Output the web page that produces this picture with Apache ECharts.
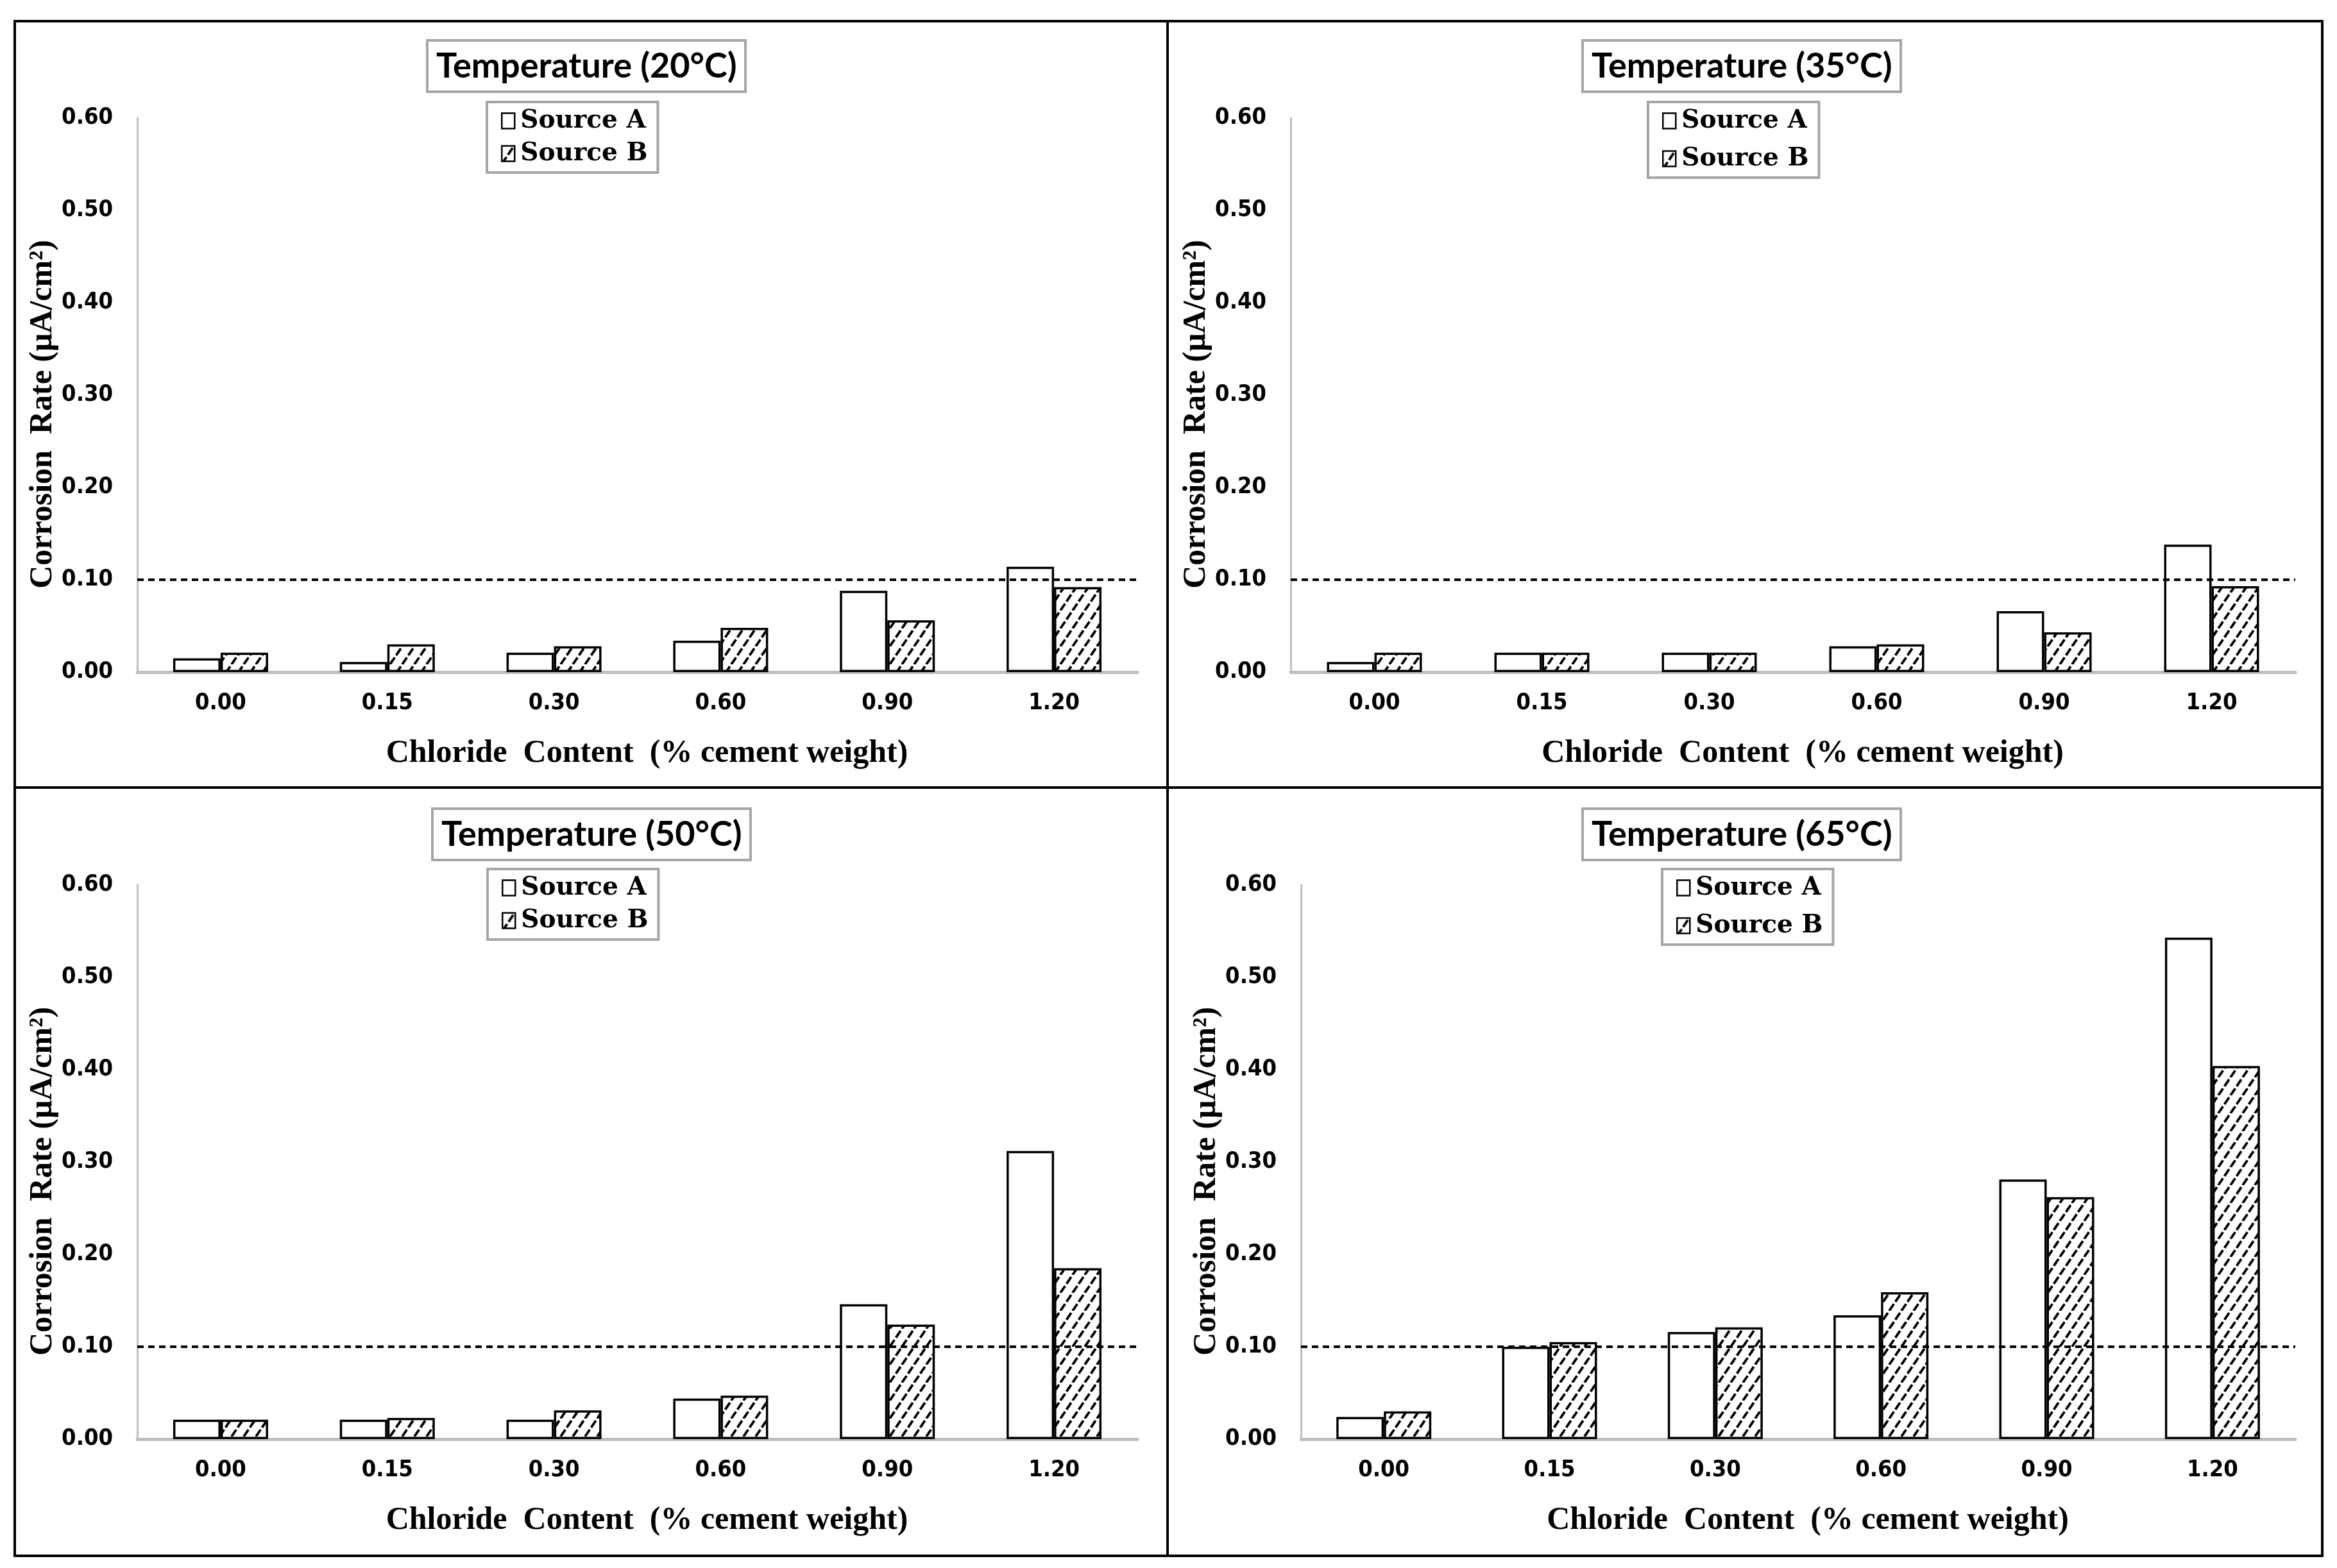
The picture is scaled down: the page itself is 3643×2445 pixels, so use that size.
<!DOCTYPE html>
<html>
<head>
<meta charset="utf-8">
<script src="https://cdn.jsdelivr.net/npm/echarts@6/dist/echarts.min.js"></script>
<style>
html,body{margin:0;padding:0;background:#fff;}
#chart{width:3643px;height:2445px;}
</style>
</head>
<body>
<div id="chart"></div>
<script>
// ---------- DATA ----------
const categories = ['0.00', '0.15', '0.30', '0.60', '0.90', '1.20'];
const panelTitles = ['Temperature (20°C)', 'Temperature (35°C)', 'Temperature (50°C)', 'Temperature (65°C)'];
const seriesNames = ['Source A', 'Source B'];
const sourceA_20 = [0.015, 0.011, 0.021, 0.034, 0.088, 0.114];
const sourceB_20 = [0.021, 0.030, 0.028, 0.048, 0.056, 0.092];
const sourceA_35 = [0.011, 0.021, 0.021, 0.028, 0.066, 0.138];
const sourceB_35 = [0.021, 0.021, 0.021, 0.030, 0.043, 0.093];
const sourceA_50 = [0.021, 0.021, 0.021, 0.044, 0.146, 0.312];
const sourceB_50 = [0.021, 0.023, 0.031, 0.047, 0.124, 0.185];
const sourceA_65 = [0.024, 0.100, 0.116, 0.134, 0.281, 0.543];
const sourceB_65 = [0.030, 0.105, 0.121, 0.159, 0.262, 0.404];
const yMin = 0, yMax = 0.6, yInterval = 0.1;
const threshold = 0.10;
const xAxisName = 'Chloride  Content  (% cement weight)';
const yAxisName = 'Corrosion  Rate (μA/cm²)';

const panelA = [sourceA_20, sourceA_35, sourceA_50, sourceA_65];
const panelB = [sourceB_20, sourceB_35, sourceB_50, sourceB_65];

// ---------- LAYOUT ----------
const grids = [
  {left: 214, top: 184, width: 1559, height: 864},
  {left: 2012, top: 184, width: 1566, height: 864},
  {left: 214, top: 1380, width: 1559, height: 864},
  {left: 2028, top: 1380, width: 1550, height: 864}
];
const titlePos = [
  {left: 666, top: 63},
  {left: 2467, top: 63},
  {left: 674, top: 1261},
  {left: 2467, top: 1261}
];
const legendPos = [
  {left: 759, top: 159, gap: 12},
  {left: 2569, top: 159, gap: 20},
  {left: 760, top: 1355, gap: 12},
  {left: 2591, top: 1355, gap: 20}
];

// hatch pattern
function makeHatch() {
  const w = 19, h = 28;
  const c = document.createElement('canvas');
  c.width = w; c.height = h;
  const ctx = c.getContext('2d');
  ctx.fillStyle = '#ffffff';
  ctx.fillRect(0, 0, w, h);
  ctx.strokeStyle = '#000000';
  ctx.lineWidth = 3.8;
  ctx.setLineDash([13, 4]);
  ctx.beginPath();
  for (let k = -1; k <= 1; k++) {
    ctx.moveTo(k * w, h);
    ctx.lineTo(k * w + w, 0);
  }
  ctx.stroke();
  return c;
}
const hatch = {image: makeHatch(), repeat: 'repeat'};

const tickFont = "'Liberation Sans Narrow', 'DejaVu Sans Condensed', Lato, sans-serif";
const serifFont = "'Liberation Serif', 'DejaVu Serif', serif";

const option = {
  animation: false,
  backgroundColor: '#ffffff',
  title: panelTitles.map((t, i) => ({
    text: t,
    left: titlePos[i].left,
    top: titlePos[i].top,
    padding: [14, 14, 12, 14],
    borderColor: '#a6a6a6',
    borderWidth: 4,
    textStyle: {fontFamily: 'Lato', fontWeight: 'bold', fontSize: 54, color: '#000'}
  })),
  legend: legendPos.map((p, i) => ({
    data: seriesNames,
    orient: 'vertical',
    left: p.left,
    top: p.top,
    padding: [10, 16, 10, 22],
    itemGap: p.gap,
    itemWidth: 20,
    itemHeight: 24,
    borderColor: '#a6a6a6',
    borderWidth: 4,
    selectedMode: false,
    icon: 'rect',
    itemStyle: {borderColor: '#000', borderWidth: 2.5},
    textStyle: {fontFamily: "'DejaVu Serif', serif", fontWeight: 'bold', fontSize: 39, color: '#000', padding: [0, 0, 0, 4]}
  })),
  grid: grids.map(g => Object.assign({containLabel: false}, g)),
  xAxis: grids.map((g, i) => ({
    type: 'category',
    gridIndex: i,
    data: categories,
    name: xAxisName,
    nameLocation: 'middle',
    nameGap: 102,
    nameTextStyle: {fontFamily: serifFont, fontWeight: 'bold', fontSize: 50, color: '#000', padding: [0, 0, 0, 30]},
    axisLine: {show: true, lineStyle: {color: '#bfbfbf', width: 5}},
    axisTick: {show: false},
    axisLabel: {margin: 31, fontFamily: tickFont, fontWeight: 'bold', fontSize: 36, color: '#000'},
    splitLine: {show: false}
  })),
  yAxis: grids.map((g, i) => ({
    type: 'value',
    gridIndex: i,
    min: yMin,
    max: yMax,
    interval: yInterval,
    name: yAxisName,
    nameLocation: 'middle',
    nameGap: 112,
    nameTextStyle: {fontFamily: serifFont, fontWeight: 'bold', fontSize: 50, color: '#000', padding: [0, 60, 0, 0]},
    axisLine: {show: true, lineStyle: {color: '#bfbfbf', width: 3}},
    axisTick: {show: false},
    axisLabel: {margin: 38, fontFamily: tickFont, fontWeight: 'bold', fontSize: 36, color: '#000',
      formatter: v => v.toFixed(2)},
    splitLine: {show: false}
  })),
  series: [],
  graphic: [
    {type: 'rect', shape: {x: 23, y: 33, width: 3597, height: 2393},
     style: {fill: 'none', stroke: '#000', lineWidth: 4}, silent: true},
    {type: 'line', shape: {x1: 1820, y1: 33, x2: 1820, y2: 2426},
     style: {stroke: '#000', lineWidth: 4}, silent: true},
    {type: 'line', shape: {x1: 23, y1: 1228, x2: 3620, y2: 1228},
     style: {stroke: '#000', lineWidth: 4}, silent: true}
  ]
};

for (let i = 0; i < 4; i++) {
  option.series.push({
    name: seriesNames[0],
    type: 'bar',
    xAxisIndex: i,
    yAxisIndex: i,
    data: panelA[i],
    barWidth: 74,
    barGap: '0%',
    itemStyle: {color: '#ffffff', borderColor: '#000', borderWidth: 3.5},
    markLine: {
      silent: true,
      symbol: ['none', 'none'],
      label: {show: false},
      lineStyle: {color: '#000', type: [10, 7], width: 4},
      data: [{yAxis: threshold}]
    },
    z: 2
  });
  option.series.push({
    name: seriesNames[1],
    type: 'bar',
    xAxisIndex: i,
    yAxisIndex: i,
    data: panelB[i],
    barWidth: 74,
    barGap: '0%',
    itemStyle: {color: hatch, borderColor: '#000', borderWidth: 3.5},
    z: 2
  });
}

const chart = echarts.init(document.getElementById('chart'));
chart.setOption(option);
</script>
</body>
</html>
